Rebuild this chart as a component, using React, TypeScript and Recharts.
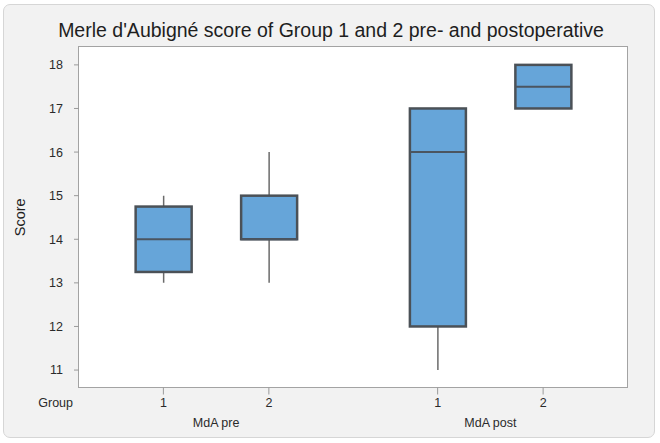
import React from 'react';
import { ComposedChart, Bar, XAxis, YAxis } from 'recharts';

const groups = ['1', '2', '1', '2'];
const phases = ['MdA pre', 'MdA post'];
const phaseCenters = [1.5, 4.1];
const positions = [1, 2, 3.6, 4.6];
const whiskerLow = [13, 13, 11, 17];
const q1 = [13.25, 14, 12, 17];
const median = [14, 14, 16, 17.5];
const q3 = [14.75, 15, 17, 18];
const whiskerHigh = [15, 16, 17, 18];
const yTicks = [11, 12, 13, 14, 15, 16, 17, 18];

const data = positions.map((p, i) => ({
  pos: p,
  group: groups[i],
  low: whiskerLow[i],
  q1: q1[i],
  med: median[i],
  q3: q3[i],
  high: whiskerHigh[i],
}));

const FONT = '"Liberation Sans", Arial, Helvetica, sans-serif';

const BoxShape = (props: any) => {
  const { x, y, width, height, payload } = props;
  const { low, q1: a, med, q3: b, high } = payload;
  const span = high - low || 1;
  const toPx = (v: number) => y + ((high - v) / span) * height;
  const cx = x + width / 2;
  return (
    <g>
      {high > b && (
        <line x1={cx} x2={cx} y1={toPx(high)} y2={toPx(b)} stroke="#6b6b6b" strokeWidth={1.5} />
      )}
      {a > low && (
        <line x1={cx} x2={cx} y1={toPx(a)} y2={toPx(low)} stroke="#6b6b6b" strokeWidth={1.5} />
      )}
      <rect
        x={x}
        y={toPx(b)}
        width={width}
        height={toPx(a) - toPx(b)}
        fill="#66a5d9"
        stroke="#4b5157"
        strokeWidth={2.5}
      />
      <line x1={x} x2={x + width} y1={toPx(med)} y2={toPx(med)} stroke="#4b5560" strokeWidth={2} />
    </g>
  );
};

export default function App() {
  return (
    <div style={{ position: 'absolute', left: 0, top: 0, width: 660, height: 443, fontFamily: FONT }}>
      <div
        style={{
          position: 'absolute',
          left: 3,
          top: 4,
          width: 650,
          height: 432,
          background: '#f2f2f2',
          border: '1px solid #d6d6d6',
          borderRadius: 7,
        }}
      />
      <div
        style={{
          position: 'absolute',
          left: 78,
          top: 46,
          width: 547.5,
          height: 339.5,
          background: '#ffffff',
          border: '1.5px solid #a3a3a3',
        }}
      />
      <div
        style={{
          position: 'absolute',
          left: 0,
          top: 18,
          width: 662,
          textAlign: 'center',
          fontSize: 19.5,
          color: '#1e1e1e',
          lineHeight: '24px',
        }}
      >
        Merle d'Aubigné score of Group 1 and 2 pre- and postoperative
      </div>
      <div style={{ position: 'absolute', left: 0, top: 0 }}>
        <ComposedChart
          width={660}
          height={443}
          data={data}
          margin={{ top: 47, right: 32.5, bottom: 0, left: 0 }}
        >
          <XAxis
            xAxisId="b"
            dataKey="pos"
            type="number"
            domain={[0.2, 5.4]}
            ticks={phaseCenters}
            allowDataOverflow
            axisLine={false}
            tickLine={false}
            tickSize={0}
            tickMargin={1}
            height={25.5}
            interval={0}
            tickFormatter={(v: number) => {
              const i = phaseCenters.indexOf(v);
              return i >= 0 ? phases[i] : '';
            }}
            tick={{ fontSize: 12.5, fill: '#2a2a2a', fontFamily: FONT }}
          />
          <XAxis
            xAxisId="a"
            dataKey="pos"
            type="number"
            domain={[0.2, 5.4]}
            ticks={positions}
            allowDataOverflow
            axisLine={false}
            tickLine={{ stroke: '#9a9a9a' }}
            tickSize={7}
            tickMargin={4}
            height={30}
            interval={0}
            tickFormatter={(v: number) => {
              const i = positions.indexOf(v);
              return i >= 0 ? groups[i] : '';
            }}
            tick={{ fontSize: 12.5, fill: '#2a2a2a', fontFamily: FONT }}
            label={{ value: 'Group', position: 'left', offset: 6, fontSize: 12.5, fill: '#2a2a2a', fontFamily: FONT }}
          />
          <YAxis
            type="number"
            domain={[10.6, 18.41]}
            ticks={yTicks}
            allowDataOverflow
            width={79}
            axisLine={false}
            tickLine={{ stroke: '#9a9a9a' }}
            tickSize={5}
            tickMargin={11}
            interval={0}
            tick={{ fontSize: 12.5, fill: '#2a2a2a', fontFamily: FONT }}
            label={{
              value: 'Score',
              angle: -90,
              position: 'insideLeft',
              offset: 20,
              fontSize: 14.5,
              fill: '#1e1e1e',
              fontFamily: FONT,
              style: { textAnchor: 'middle' },
            }}
          />
          <Bar
            xAxisId="a"
            dataKey={(d: any) => [d.low, d.high]}
            barSize={56}
            shape={BoxShape}
            isAnimationActive={false}
          />
        </ComposedChart>
      </div>
    </div>
  );
}
